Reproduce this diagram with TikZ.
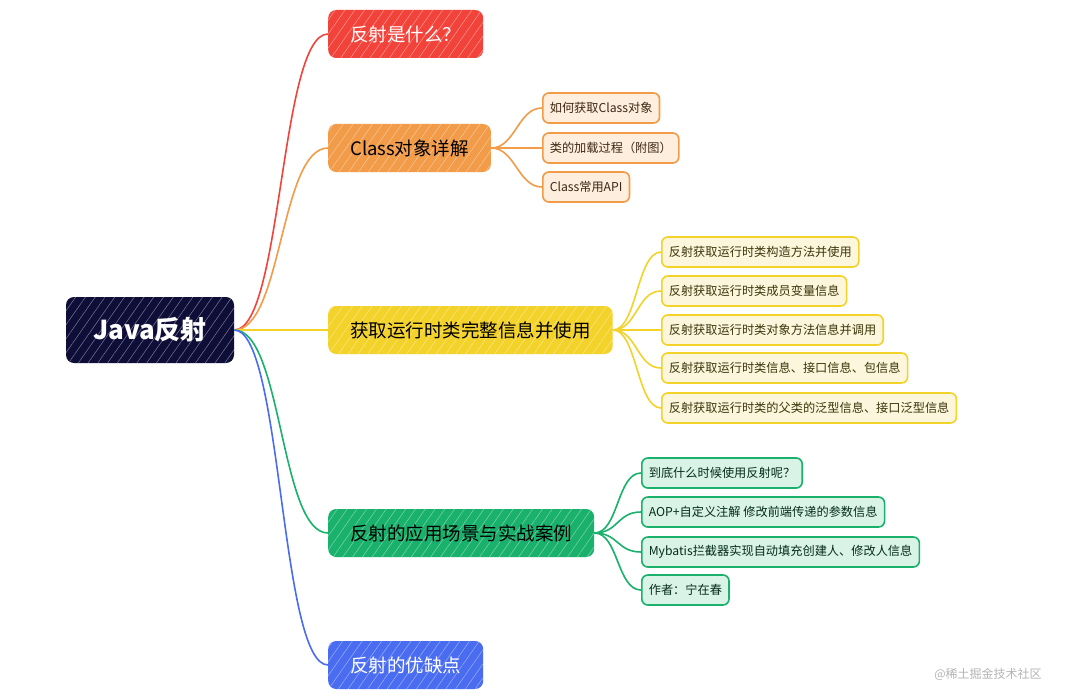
\documentclass[tikz,border=0pt]{standalone}
\usepackage{fontspec}
\setmainfont{Noto Sans CJK SC}
\usetikzlibrary{patterns.meta}
\definecolor{rootnavy}{HTML}{0E0E38}
\definecolor{brred}{HTML}{F2433B}
\definecolor{brorange}{HTML}{F29B48}
\definecolor{bryellow}{HTML}{F3D22A}
\definecolor{brgreen}{HTML}{19B16C}
\definecolor{brblue}{HTML}{4A6CF0}
\definecolor{lforange}{HTML}{FDEEDD}
\definecolor{lfyellow}{HTML}{FCF6DC}
\definecolor{lfgreen}{HTML}{D9F3E6}
\definecolor{wmgray}{HTML}{B4B4B4}

\begin{document}
\begin{tikzpicture}[x=1pt, y=-1pt,
  hatch/.style={preaction={fill=#1}, pattern={Lines[angle=55,distance=8pt,line width=0.5pt]}, pattern color=white!45!#1},
  rootbox/.style={hatch=rootnavy, rounded corners=8pt, text=white, font=\fontsize{26}{28}\selectfont\bfseries, minimum width=168pt, minimum height=66pt},
  mainbox/.style={hatch=#1, rounded corners=8pt, anchor=west, font=\fontsize{18.5}{20}\selectfont, minimum height=48pt, inner xsep=22pt},
  subbox/.style={draw=#1, line width=1.6pt, rounded corners=6pt, anchor=west, text=#1!25!black, font=\fontsize{12.2}{14}\selectfont, minimum height=30pt, inner xsep=7pt},
  link/.style={line width=1.6pt, draw=#1},
]

% Background
\fill[white] (0,0) rectangle (1076,698);
\useasboundingbox (0,0) rectangle (1076,698);

% Root
\node[rootbox] (root) at (150,330) {Java反射};

% Main branches
\node[mainbox=brred, text=white] (whatis) at (328,34) {反射是什么？};
\node[mainbox=brorange] (classobj) at (328,148) {Class对象详解};
\node[mainbox=bryellow] (runinfo) at (328,330) {获取运行时类完整信息并使用};
\node[mainbox=brgreen] (usage) at (328,533) {反射的应用场景与实战案例};
\node[mainbox=brblue, text=white] (proscons) at (328,665) {反射的优缺点};

% Root to branches
\draw[link=brred] (root.east) .. controls +(48,0) and +(-48,0) .. (whatis.west);
\draw[link=brorange] (root.east) .. controls +(48,0) and +(-48,0) .. (classobj.west);
\draw[link=bryellow] (root.east) -- (runinfo.west);
\draw[link=brgreen] (root.east) .. controls +(48,0) and +(-48,0) .. (usage.west);
\draw[link=brblue] (root.east) .. controls +(48,0) and +(-48,0) .. (proscons.west);

% Class branch leaves
\node[subbox=brorange, fill=lforange] (c1) at (542,108) {如何获取Class对象};
\node[subbox=brorange, fill=lforange] (c2) at (542,148) {类的加载过程（附图）};
\node[subbox=brorange, fill=lforange] (c3) at (542,187) {Class常用API};
\foreach \n in {c1,c2,c3}
  \draw[link=brorange] (classobj.east) .. controls +(24,0) and +(-24,0) .. (\n.west);

% Runtime info leaves
\node[subbox=bryellow, fill=lfyellow] (r1) at (661,252) {反射获取运行时类构造方法并使用};
\node[subbox=bryellow, fill=lfyellow] (r2) at (661,291) {反射获取运行时类成员变量信息};
\node[subbox=bryellow, fill=lfyellow] (r3) at (661,330) {反射获取运行时类对象方法信息并调用};
\node[subbox=bryellow, fill=lfyellow] (r4) at (661,368) {反射获取运行时类信息、接口信息、包信息};
\node[subbox=bryellow, fill=lfyellow] (r5) at (661,408) {反射获取运行时类的父类的泛型信息、接口泛型信息};
\foreach \n in {r1,r2,r3,r4,r5}
  \draw[link=bryellow] (runinfo.east) .. controls +(24,0) and +(-24,0) .. (\n.west);

% Usage leaves
\node[subbox=brgreen, fill=lfgreen] (u1) at (641,473) {到底什么时候使用反射呢？};
\node[subbox=brgreen, fill=lfgreen] (u2) at (641,512) {AOP+自定义注解 修改前端传递的参数信息};
\node[subbox=brgreen, fill=lfgreen] (u3) at (641,552) {Mybatis拦截器实现自动填充创建人、修改人信息};
\node[subbox=brgreen, fill=lfgreen] (u4) at (641,590) {作者：宁在春};
\foreach \n in {u1,u2,u3,u4}
  \draw[link=brgreen] (usage.east) .. controls +(24,0) and +(-24,0) .. (\n.west);

% Watermark
\node[text=wmgray, font=\fontsize{12}{14}\selectfont] (mark) at (988,674) {@稀土掘金技术社区};

\end{tikzpicture}
\end{document}
